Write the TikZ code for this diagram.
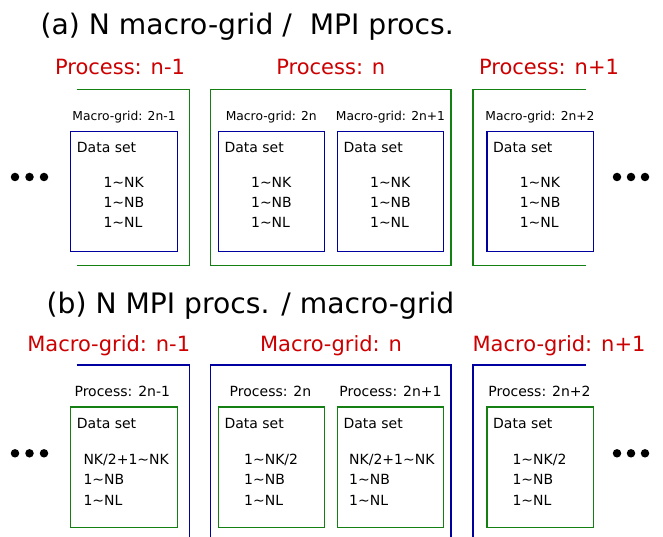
\documentclass[tikz,border=0pt]{standalone}
\usepackage{fontspec}
\setmainfont{DejaVu Sans}
\definecolor{pred}{RGB}{204,0,0}
\definecolor{pgreen}{RGB}{20,128,20}
\definecolor{pblue}{RGB}{0,0,160}
\tikzset{
  title/.style={anchor=base west, inner sep=0pt, font=\fontsize{28.2}{30}\selectfont},
  redlabel/.style={anchor=base, inner sep=0pt, text=pred, font=\fontsize{21}{23}\selectfont},
  smalla/.style={anchor=base, inner sep=0pt, font=\fontsize{12.3}{14}\selectfont},
  smallb/.style={anchor=base, inner sep=0pt, font=\fontsize{14}{16}\selectfont},
  txt/.style={anchor=base west, inner sep=0pt, font=\fontsize{14}{16}\selectfont},
  gline/.style={draw=pgreen, line width=1.5pt},
  bline/.style={draw=pblue, line width=1.5pt},
  dot/.style={fill=black, circle, inner sep=0pt, minimum size=8.5pt},
}
\newcommand{\tl}{\textasciitilde}
\begin{document}
\begin{tikzpicture}[x=1pt,y=-1pt]
\useasboundingbox (0,0) rectangle (663,537);
% ---------- (a) ----------
\node[title] (ta) at (40.5,34.3) {(a) N macro-grid /\ \ MPI procs.};
\node[redlabel] (pa1) at (120,75) {Process: n-1};
\node[redlabel] (pa2) at (330.8,75) {Process: n};
\node[redlabel] (pa3) at (549,75) {Process: n+1};
% green process brackets
\draw[gline] (76.7,89.3) -- (189.3,89.3) -- (189.3,265.7) -- (76.7,265.7);
\draw[gline] (210.7,89.3) rectangle (451,265.7);
\draw[gline] (585.7,89.3) -- (473,89.3) -- (473,265.7) -- (585.7,265.7);
% blue data boxes
\draw[bline] (70.7,131.7) rectangle (177.3,251.3);
\draw[bline] (218.3,131.7) rectangle (324.3,251.3);
\draw[bline] (337.3,131.7) rectangle (443.7,251.3);
\draw[bline] (487,131.7) rectangle (593.3,251.3);
% labels
\node[smalla] (ma1) at (124,120.7) {Macro-grid: 2n-1};
\node[smalla] (ma2) at (271.3,120.7) {Macro-grid: 2n};
\node[smalla] (ma3) at (390.5,120.7) {Macro-grid: 2n+1};
\node[smalla] (ma4) at (540,120.7) {Macro-grid: 2n+2};
\foreach \bx/\nx [count=\i] in {70.7/103.3, 218.3/250.9, 337.3/369.9, 487/519.6}{
  \node[txt] (da\i) at (\bx+6,152.7) {Data set};
  \node[txt] (ka\i) at (\nx,187.3) {1\tl NK};
  \node[txt] (ba\i) at (\nx,207.3) {1\tl NB};
  \node[txt] (la\i) at (\nx,227.7) {1\tl NL};
}
\node[dot] (d1) at (15,177) {};
\node[dot] (d2) at (29.5,177) {};
\node[dot] (d3) at (44,177) {};
\node[dot] (d4) at (617,177) {};
\node[dot] (d5) at (631,177) {};
\node[dot] (d6) at (645,177) {};
% ---------- (b) ----------
\node[title] (tb) at (46.5,313.3) {(b) N MPI procs. / macro-grid};
\node[redlabel] (mb1) at (108.7,351.5) {Macro-grid: n-1};
\node[redlabel] (mb2) at (331,351.5) {Macro-grid: n};
\node[redlabel] (mb3) at (559,351.5) {Macro-grid: n+1};
% blue macro-grid brackets
\draw[bline] (76.7,365) -- (189.3,365) -- (189.3,537);
\draw[bline] (210.7,537) -- (210.7,365) -- (451,365) -- (451,537);
\draw[bline] (585.7,365) -- (473,365) -- (473,537);
% green data boxes
\draw[gline] (70.7,407) rectangle (177.3,527.7);
\draw[gline] (218.3,407) rectangle (324.3,527.7);
\draw[gline] (337.3,407) rectangle (443.7,527.7);
\draw[gline] (487,407) rectangle (593.3,527.7);
\node[smallb] (pb1) at (122.3,396.7) {Process: 2n-1};
\node[smallb] (pb2) at (270.5,396.7) {Process: 2n};
\node[smallb] (pb3) at (390.5,396.7) {Process: 2n+1};
\node[smallb] (pb4) at (539.5,396.7) {Process: 2n+2};
\foreach \bx/\nx/\k [count=\i] in {70.7/83.3/{NK/2+1\tl NK}, 218.3/244/{1\tl NK/2}, 337.3/349/{NK/2+1\tl NK}, 487/512.3/{1\tl NK/2}}{
  \node[txt] (db\i) at (\bx+6,428) {Data set};
  \node[txt] (kb\i) at (\nx,464.3) {\k};
  \node[txt] (bb\i) at (\nx,484.3) {1\tl NB};
  \node[txt] (lb\i) at (\nx,505) {1\tl NL};
}
\node[dot] (e1) at (15,453.3) {};
\node[dot] (e2) at (29.5,453.3) {};
\node[dot] (e3) at (44,453.3) {};
\node[dot] (e4) at (617,453.3) {};
\node[dot] (e5) at (631,453.3) {};
\node[dot] (e6) at (645,453.3) {};
\end{tikzpicture}
\end{document}
